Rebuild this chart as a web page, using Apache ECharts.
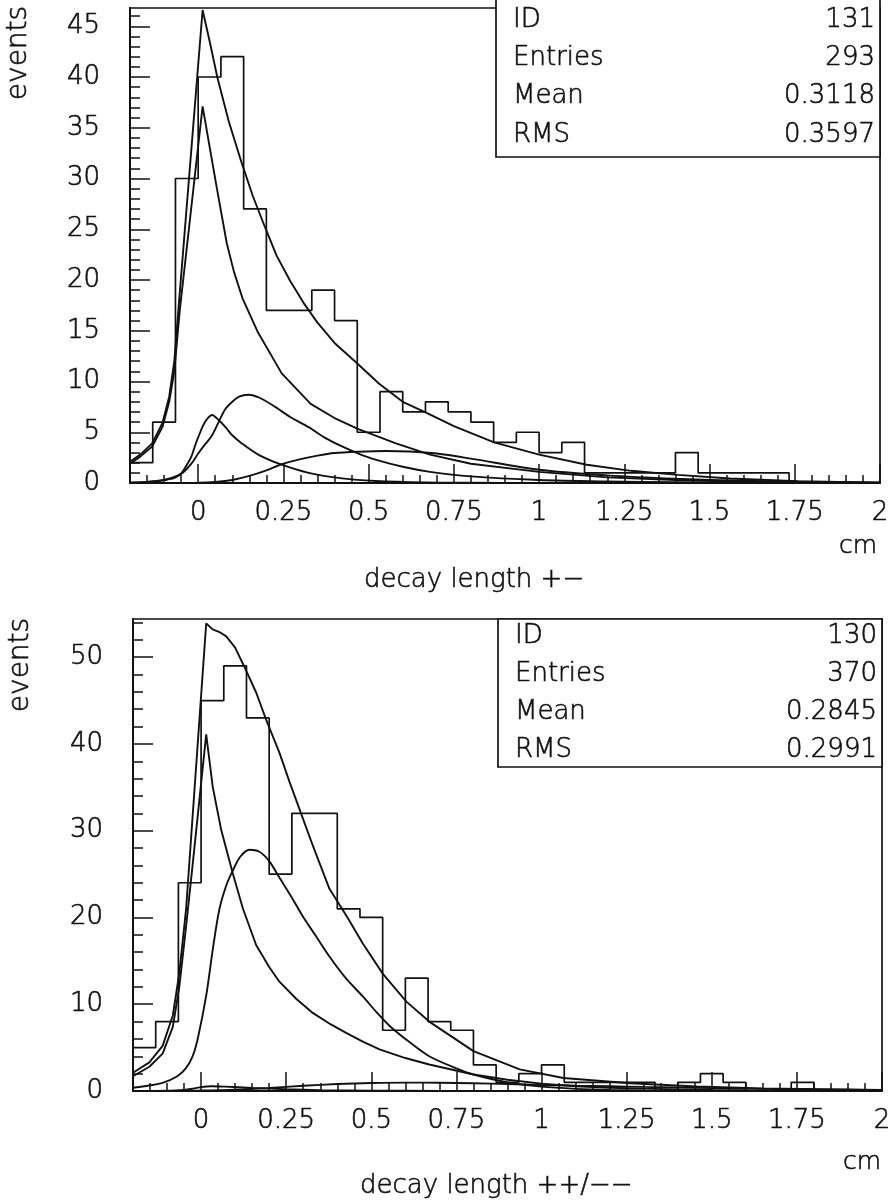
<!DOCTYPE html>
<html>
<head>
<meta charset="utf-8">
<script src="https://cdn.jsdelivr.net/npm/echarts@6/dist/echarts.min.js"></script>
<style>
html,body{margin:0;padding:0;background:#fff;}
#chart{width:895px;height:1202px;}
</style>
</head>
<body>
<div id="chart"></div>
<script>
// ---------------- DATA ----------------
const xTickValues = [0, 0.25, 0.5, 0.75, 1, 1.25, 1.5, 1.75, 2];
const xTickLabels = ['0', '0.25', '0.5', '0.75', '1', '1.25', '1.5', '1.75', '2'];
const topYTickValues = [0, 5, 10, 15, 20, 25, 30, 35, 40, 45];
const botYTickValues = [0, 10, 20, 30, 40, 50];

const statLabels = ['ID', 'Entries', 'Mean', 'RMS'];
const topStats = ['131', '293', '0.3118', '0.3597'];
const botStats = ['130', '370', '0.2845', '0.2991'];

const topXTitle = 'decay length +\u2212';
const botXTitle = 'decay length ++/\u2212\u2212';
const yTitle = 'events';
const xUnit = 'cm';

// histogram: 33 bins of width 1/15 cm from -0.2 to 2.0
const histMin = -0.2, histMax = 2.0, nBins = 33;
const topCounts = [2, 6, 30, 40, 42, 27, 17, 17, 19, 16, 5, 9, 7, 8, 7, 6, 4, 5, 3, 4, 1, 1, 1, 1, 3, 1, 1, 1, 1, 0, 0, 0, 0];
const botCounts = [5, 8, 24, 45, 49, 43, 25, 32, 32, 21, 20, 7, 13, 8, 7, 3, 1, 2, 3, 1, 1, 1, 1, 0, 1, 2, 1, 0, 0, 1, 0, 0, 0];

// fitted curves [x, y]
const topTotal = [[-0.2,2.1],[-0.17,2.8],[-0.135,3.9],[-0.105,5.9],[-0.085,8.5],[-0.07,12.0],[-0.057,17.5],[0.013,46.6],[0.035,43.3],[0.056,40.0],[0.09,35.6],[0.126,31.7],[0.16,28.3],[0.196,25.2],[0.23,22.4],[0.27,19.9],[0.31,17.7],[0.35,15.8],[0.4,13.8],[0.466,11.8],[0.53,9.8],[0.6,8.0],[0.67,6.9],[0.75,5.6],[0.868,4.0],[1.0,2.8],[1.14,1.8],[1.27,1.2],[1.407,0.8],[1.56,0.45],[1.76,0.17],[2.0,0.04]];
const topB = [[-0.2,1.9],[-0.17,2.6],[-0.135,3.6],[-0.105,5.5],[-0.085,8.0],[-0.07,11.0],[-0.054,17.0],[0.013,37.1],[0.03,33.8],[0.055,29.0],[0.084,23.6],[0.105,20.8],[0.13,18.2],[0.176,14.8],[0.245,10.8],[0.33,7.8],[0.4,6.4],[0.47,5.3],[0.58,3.9],[0.68,2.8],[0.8,1.9],[1.0,1.1],[1.2,0.55],[1.4,0.3],[1.6,0.12],[1.8,0.05],[2.0,0.01]];
const topC = [[-0.2,0.02],[-0.15,0.1],[-0.1,0.3],[-0.07,0.6],[-0.05,0.95],[-0.035,1.7],[-0.02,2.6],[-0.01,3.6],[0.0,4.5],[0.02,6.0],[0.041,6.7],[0.06,6.2],[0.08,5.5],[0.1,4.7],[0.128,3.9],[0.176,2.8],[0.245,1.8],[0.324,1.0],[0.422,0.46],[0.52,0.2],[0.667,0.05],[0.8,0.02],[1.0,0.01],[2.0,0]];
const topD = [[-0.2,0.03],[-0.15,0.1],[-0.118,0.2],[-0.09,0.35],[-0.069,0.5],[-0.045,1.0],[-0.02,1.9],[0.0,2.9],[0.02,3.8],[0.039,4.6],[0.06,6.0],[0.078,7.2],[0.1,8.0],[0.12,8.5],[0.147,8.7],[0.18,8.4],[0.226,7.5],[0.27,6.5],[0.324,5.5],[0.37,4.5],[0.422,3.6],[0.47,2.9],[0.52,2.3],[0.6,1.6],[0.68,1.1],[0.8,0.65],[1.0,0.3],[1.2,0.15],[1.4,0.07],[1.6,0.03],[2.0,0]];
const topE = [[-0.2,0],[0.0,0.02],[0.05,0.1],[0.1,0.3],[0.15,0.7],[0.2,1.25],[0.245,1.85],[0.3,2.35],[0.35,2.7],[0.4,2.95],[0.47,3.08],[0.55,3.15],[0.62,3.1],[0.7,2.9],[0.8,2.4],[1.0,1.3],[1.2,0.75],[1.4,0.42],[1.6,0.22],[1.8,0.1],[2.0,0.05]];

const botTotal = [[-0.2,2.1],[-0.152,3.3],[-0.113,5.2],[-0.083,8.7],[-0.064,13.6],[-0.044,21.0],[0.015,53.9],[0.034,53.2],[0.054,52.9],[0.074,52.4],[0.1,51.1],[0.127,48.9],[0.162,45.9],[0.191,42.8],[0.23,39.0],[0.26,35.6],[0.3,31.3],[0.328,28.3],[0.377,23.3],[0.43,20.0],[0.475,17.0],[0.534,13.5],[0.603,10.3],[0.67,8.0],[0.8,4.6],[0.936,2.5],[1.064,1.5],[1.26,0.9],[1.456,0.52],[1.652,0.3],[2.0,0.12]];
const botB = [[-0.2,1.7],[-0.152,2.8],[-0.113,4.3],[-0.083,7.4],[-0.064,12.0],[-0.044,19.0],[-0.025,26.0],[0.015,41.1],[0.034,35.1],[0.059,30.1],[0.093,25.1],[0.123,21.0],[0.162,16.8],[0.2,14.3],[0.23,12.6],[0.28,10.6],[0.328,9.0],[0.38,7.7],[0.426,6.7],[0.475,5.7],[0.524,4.8],[0.6,3.8],[0.67,3.05],[0.8,1.9],[0.9,1.3],[1.0,0.85],[1.1,0.55],[1.2,0.38],[1.3,0.27],[1.4,0.19],[1.5,0.13],[1.6,0.09],[1.8,0.05],[2.0,0.02]];
const botD = [[-0.2,0.37],[-0.113,0.94],[-0.07,1.7],[-0.045,2.6],[-0.025,4.0],[-0.01,6.0],[0.015,11.0],[0.035,16.5],[0.054,21.0],[0.075,23.8],[0.093,25.4],[0.115,27.0],[0.142,27.8],[0.17,27.6],[0.2,26.5],[0.23,24.6],[0.265,22.4],[0.299,20.1],[0.34,17.7],[0.377,15.5],[0.425,13.0],[0.475,10.9],[0.515,9.1],[0.554,7.5],[0.61,5.7],[0.67,4.0],[0.75,2.6],[0.8,1.9],[0.9,1.0],[1.0,0.5],[1.1,0.25],[1.2,0.12],[1.3,0.06],[1.4,0.03],[1.6,0.01],[2.0,0]];
const botE = [[-0.2,0],[-0.1,0.01],[0,0.05],[0.1,0.15],[0.2,0.35],[0.3,0.6],[0.4,0.8],[0.5,0.92],[0.6,0.97],[0.7,0.95],[0.8,0.9],[0.9,0.8],[1.0,0.7],[1.1,0.62],[1.2,0.55],[1.3,0.47],[1.4,0.4],[1.5,0.33],[1.6,0.27],[1.7,0.22],[1.8,0.17],[1.9,0.14],[2.0,0.11]];
const botC = [[-0.2,0],[-0.1,0.03],[-0.05,0.12],[-0.02,0.3],[0,0.45],[0.03,0.55],[0.07,0.5],[0.15,0.35],[0.25,0.2],[0.35,0.1],[0.5,0.04],[0.7,0.01],[1.0,0],[2.0,0]];

// ---------------- BUILD ----------------
const FONT = "'DejaVu Sans', 'Liberation Sans', sans-serif";
const FW = 200;
const INK = '#111';
const TB = 0.6; // slight text stroke to thicken the light face

const binW = (histMax - histMin) / nBins;
function histPoints(counts) {
  const pts = [];
  for (let k = 0; k < counts.length; k++) pts.push([histMin + k * binW, counts[k]]);
  pts.push([histMax, counts[counts.length - 1]]);
  return pts;
}
function range(a, b, step) {
  const out = [];
  const n = Math.round((b - a) / step);
  for (let i = 0; i <= n; i++) out.push(+(a + i * step).toFixed(4));
  return out;
}
const xMinor = range(-0.2, 2.0, 0.05);
const topYMinor = range(0, 46, 1);
const botYMinor = range(0, 54, 2);

function xLabel(v) {
  let best = 0, bd = 1e9;
  xTickValues.forEach((t, i) => { const d = Math.abs(t - v); if (d < bd) { bd = d; best = i; } });
  return xTickLabels[best];
}

const grids = [
  { left: 130, top: 8, width: 750, height: 475 },
  { left: 133, top: 619, width: 749, height: 472 }
];
const yMax = [46.8, 54.4];

const labelStyle = { color: INK, fontSize: 26, fontFamily: FONT, fontWeight: FW, textBorderColor: INK, textBorderWidth: TB };

const xAxes = [], yAxes = [], series = [];
grids.forEach((g, gi) => {
  g.show = true; g.borderColor = INK; g.borderWidth = 1.7; g.containLabel = false;
  xAxes.push({
    gridIndex: gi, type: 'value', min: histMin, max: histMax, position: 'bottom',
    axisLine: { show: true, onZero: false, lineStyle: { color: INK, width: 2 } },
    axisTick: { show: true, inside: true, length: 19, customValues: xTickValues, lineStyle: { color: INK, width: 1.5 } },
    axisLabel: Object.assign({ show: true, customValues: xTickValues, formatter: xLabel, margin: 17 }, labelStyle),
    splitLine: { show: false }
  });
  xAxes.push({
    gridIndex: gi, type: 'value', min: histMin, max: histMax, position: 'bottom', offset: 0,
    axisLine: { show: false, onZero: false },
    axisTick: { show: true, inside: true, length: 8, customValues: xMinor, lineStyle: { color: INK, width: 1.5 } },
    axisLabel: { show: false }, splitLine: { show: false }
  });
  const major = gi === 0 ? topYTickValues : botYTickValues;
  const minor = gi === 0 ? topYMinor : botYMinor;
  yAxes.push({
    gridIndex: gi, type: 'value', min: 0, max: yMax[gi], position: 'left',
    axisLine: { show: true, onZero: false, lineStyle: { color: INK, width: 2 } },
    axisTick: { show: true, inside: true, length: 20, customValues: major, lineStyle: { color: INK, width: 1.5 } },
    axisLabel: Object.assign({ show: true, customValues: major, margin: 30 }, labelStyle),
    splitLine: { show: false }
  });
  yAxes.push({
    gridIndex: gi, type: 'value', min: 0, max: yMax[gi], position: 'left', offset: 0,
    axisLine: { show: false, onZero: false },
    axisTick: { show: true, inside: true, length: 10, customValues: minor, lineStyle: { color: INK, width: 1.5 } },
    axisLabel: { show: false }, splitLine: { show: false }
  });
});

function lineSeries(data, gi, opts) {
  return Object.assign({
    type: 'line', data: data, xAxisIndex: gi * 2, yAxisIndex: gi * 2,
    symbol: 'none', clip: true, animation: false, silent: true,
    lineStyle: { color: INK, width: 1.9 }
  }, opts || {});
}
series.push(lineSeries(histPoints(topCounts), 0, { step: 'end', lineStyle: { color: INK, width: 1.7 } }));
series.push(lineSeries(topTotal, 0, { smooth: false }));
series.push(lineSeries(topB, 0, { smooth: false }));
series.push(lineSeries(topC, 0, { smooth: 0.3 }));
series.push(lineSeries(topD, 0, { smooth: 0.3 }));
series.push(lineSeries(topE, 0, { smooth: 0.3 }));
series.push(lineSeries(histPoints(botCounts), 1, { step: 'end', lineStyle: { color: INK, width: 1.7 } }));
series.push(lineSeries(botTotal, 1, { smooth: false }));
series.push(lineSeries(botB, 1, { smooth: false }));
series.push(lineSeries(botD, 1, { smooth: 0.3 }));
series.push(lineSeries(botE, 1, { smooth: 0.3 }));
series.push(lineSeries(botC, 1, { smooth: 0.3 }));

function txt(text, x, y, size, align, extra) {
  return Object.assign({
    type: 'text', z: 110, silent: true, x: x, y: y,
    style: { text: text, fontSize: size, fontFamily: FONT, fontWeight: FW, fill: INK, stroke: INK, lineWidth: TB, textAlign: align || 'left', textVerticalAlign: 'middle' }
  }, extra || {});
}
function statsBox(x0, y0, x1, y1, rows, values) {
  const els = [{ type: 'rect', z: 100, silent: true, shape: { x: x0, y: y0, width: x1 - x0, height: y1 - y0 }, style: { fill: '#fff', stroke: INK, lineWidth: 1.7 } }];
  statLabels.forEach((lab, i) => {
    els.push(txt(lab, x0 + 17, rows[i], 26, 'left'));
    els.push(txt(values[i], x1 - 5, rows[i], 26, 'right'));
  });
  return els;
}

const graphic = [].concat(
  statsBox(496, -1, 880, 157, [20, 58, 96, 135], topStats),
  statsBox(498, 619, 882, 767, [636, 674, 712, 750], botStats),
  [
    txt(yTitle, 19, 53, 28, 'center', { rotation: Math.PI / 2 }),
    txt(yTitle, 21, 665, 28, 'center', { rotation: Math.PI / 2 }),
    txt(xUnit, 858, 546, 25, 'center'),
    txt(xUnit, 862, 1162, 25, 'center'),
    txt(topXTitle, 364, 580, 26, 'left'),
    txt(botXTitle, 360, 1186, 26, 'left')
  ]
);

const chart = echarts.init(document.getElementById('chart'), null, { renderer: 'canvas' });
chart.setOption({
  animation: false,
  backgroundColor: '#fff',
  grid: grids,
  xAxis: xAxes,
  yAxis: yAxes,
  series: series,
  graphic: graphic
});
</script>
</body>
</html>
